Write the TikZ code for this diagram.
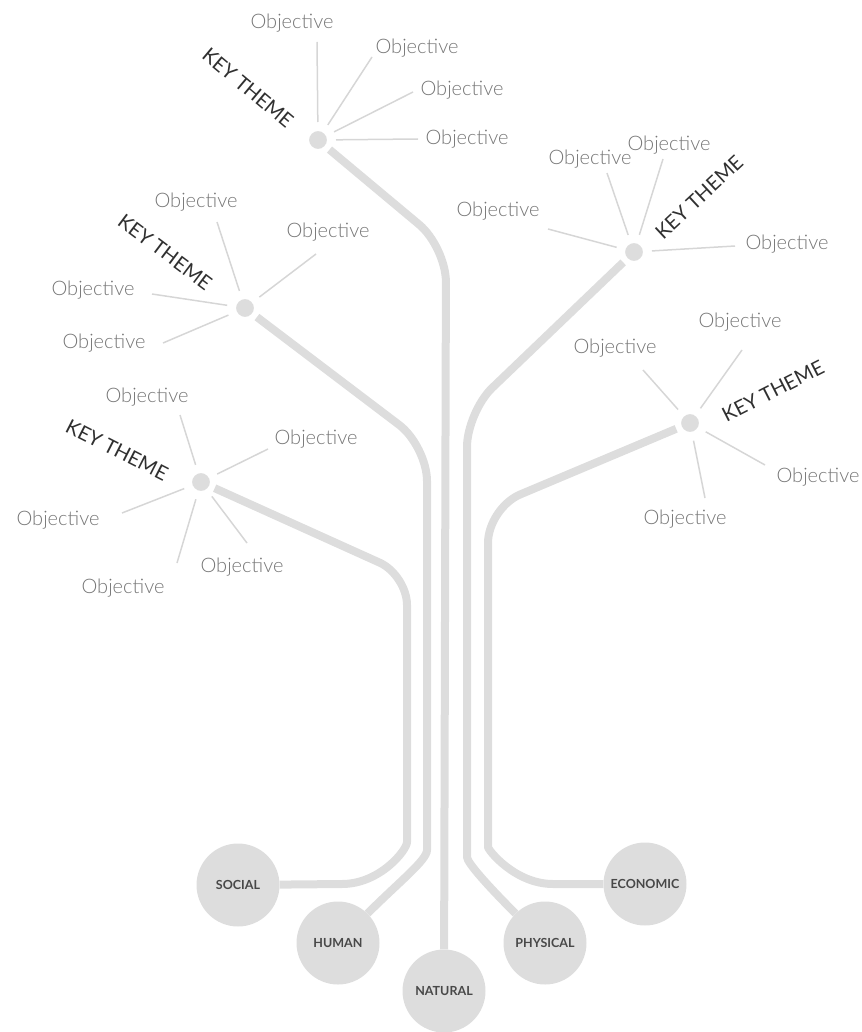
\documentclass[tikz,border=0pt]{standalone}
\usepackage{fontspec}
\setsansfont{Lato}
\newfontfamily\objfont{Lato Light}
\usetikzlibrary{backgrounds}
\definecolor{branchgray}{RGB}{221,221,221}
\definecolor{spokegray}{RGB}{214,214,214}
\definecolor{objgray}{RGB}{118,118,118}
\definecolor{keygray}{RGB}{48,48,48}
\definecolor{resgray}{RGB}{72,72,72}

\begin{document}
\begin{tikzpicture}[
    x=1pt, y=-1pt,
    font=\sffamily,
    res/.style={
      circle, fill=branchgray, minimum size=83pt, inner sep=0pt,
      font=\fontsize{12.5}{12.5}\selectfont\sffamily\bfseries, text=resgray
    },
    hub/.style={
      circle, fill=branchgray, draw=white, line width=4pt,
      minimum size=22pt, inner sep=0pt, outer sep=4pt
    },
    obj/.style={font=\fontsize{20}{20}\selectfont\objfont, text=objgray, inner sep=0pt},
    key/.style={font=\fontsize{20}{20}\selectfont\sffamily, text=keygray, inner sep=0pt},
    branch/.style={draw=branchgray, line width=8pt},
    spoke/.style={draw=spokegray, line width=1.5pt, shorten <=3pt}
  ]
    \useasboundingbox (0,0) rectangle (861,1032);

    \node[res] (social) at (238,885) {SOCIAL};
    \node[res] (human) at (338,943) {HUMAN};
    \node[res] (natural) at (444,991) {NATURAL};
    \node[res] (physical) at (545,943) {PHYSICAL};
    \node[res] (economic) at (645,884) {ECONOMIC};

    \node[hub] (t1) at (318,140) {};
    \node[hub] (t2) at (245,308) {};
    \node[hub] (t3) at (201,482) {};
    \node[hub] (t4) at (634,252) {};
    \node[hub] (t5) at (690,423) {};

    \node[key, rotate=-40] (k1) at (248,88) {KEY THEME};
    \node[key, rotate=-37] (k2) at (165,252) {KEY THEME};
    \node[key, rotate=-27] (k3) at (117,450) {KEY THEME};
    \node[key, rotate=43] (k4) at (699,197) {KEY THEME};
    \node[key, rotate=27] (k5) at (773,391) {KEY THEME};

    \node[obj] (o1a) at (292,23) {Objective};
    \node[obj] (o1b) at (417,48) {Objective};
    \node[obj] (o1c) at (462,90) {Objective};
    \node[obj] (o1d) at (467,139) {Objective};
    \node[obj] (o2a) at (196,202) {Objective};
    \node[obj] (o2b) at (328,232) {Objective};
    \node[obj] (o2c) at (93,290) {Objective};
    \node[obj] (o2d) at (104,343) {Objective};
    \node[obj] (o3a) at (147,397) {Objective};
    \node[obj] (o3b) at (316,439) {Objective};
    \node[obj] (o3c) at (58,520) {Objective};
    \node[obj] (o3d) at (123,588) {Objective};
    \node[obj] (o3e) at (242,567) {Objective};
    \node[obj] (o4a) at (590,159) {Objective};
    \node[obj] (o4b) at (669,145) {Objective};
    \node[obj] (o4c) at (498,211) {Objective};
    \node[obj] (o4d) at (787,244) {Objective};
    \node[obj] (o5a) at (615,348) {Objective};
    \node[obj] (o5b) at (740,322) {Objective};
    \node[obj] (o5c) at (818,477) {Objective};
    \node[obj] (o5d) at (685,519) {Objective};

    \coordinate (e1a) at (317,42);
    \coordinate (e1b) at (372,57);
    \coordinate (e1c) at (413,92);
    \coordinate (e1d) at (418,139);
    \coordinate (e2a) at (217,222);
    \coordinate (e2b) at (316,254);
    \coordinate (e2c) at (152,294);
    \coordinate (e2d) at (163,343);
    \coordinate (e3a) at (180,415);
    \coordinate (e3b) at (268,449);
    \coordinate (e3c) at (122,513);
    \coordinate (e3d) at (177,563);
    \coordinate (e3e) at (247,543);
    \coordinate (e4a) at (607,173);
    \coordinate (e4b) at (663,159);
    \coordinate (e4c) at (548,229);
    \coordinate (e4d) at (735,246);
    \coordinate (e5a) at (643,370);
    \coordinate (e5b) at (742,350);
    \coordinate (e5c) at (765,465);
    \coordinate (e5d) at (705,498);

    \draw[spoke] (t1) -- (e1a);
    \draw[spoke] (t1) -- (e1b);
    \draw[spoke] (t1) -- (e1c);
    \draw[spoke] (t1) -- (e1d);
    \draw[spoke] (t2) -- (e2a);
    \draw[spoke] (t2) -- (e2b);
    \draw[spoke] (t2) -- (e2c);
    \draw[spoke] (t2) -- (e2d);
    \draw[spoke] (t3) -- (e3a);
    \draw[spoke] (t3) -- (e3b);
    \draw[spoke] (t3) -- (e3c);
    \draw[spoke] (t3) -- (e3d);
    \draw[spoke] (t3) -- (e3e);
    \draw[spoke] (t4) -- (e4a);
    \draw[spoke] (t4) -- (e4b);
    \draw[spoke] (t4) -- (e4c);
    \draw[spoke] (t4) -- (e4d);
    \draw[spoke] (t5) -- (e5a);
    \draw[spoke] (t5) -- (e5b);
    \draw[spoke] (t5) -- (e5c);
    \draw[spoke] (t5) -- (e5d);

    \begin{scope}[on background layer]
      \draw[branch, rounded corners=35pt] (t1) -- (446,247) -- (natural);
      \draw[branch] (t2) [rounded corners=35pt] -- (427,446) -- (427,815)
        [sharp corners] to[out=-90, in=45] (human);
      \draw[branch] (t3) [rounded corners=30pt] -- (407,575) -- (407,812)
        [sharp corners] to[out=-90, in=0] (342,884) -- (social);
      \draw[branch] (t4) [rounded corners=35pt] -- (467,412) -- (467,822)
        [sharp corners] to[out=-90, in=135] (physical);
      \draw[branch] (t5) [rounded corners=35pt] -- (488,508) -- (488,812)
        [sharp corners] to[out=-90, in=180] (553,884) -- (economic);
    \end{scope}
  \end{tikzpicture}
\end{document}
